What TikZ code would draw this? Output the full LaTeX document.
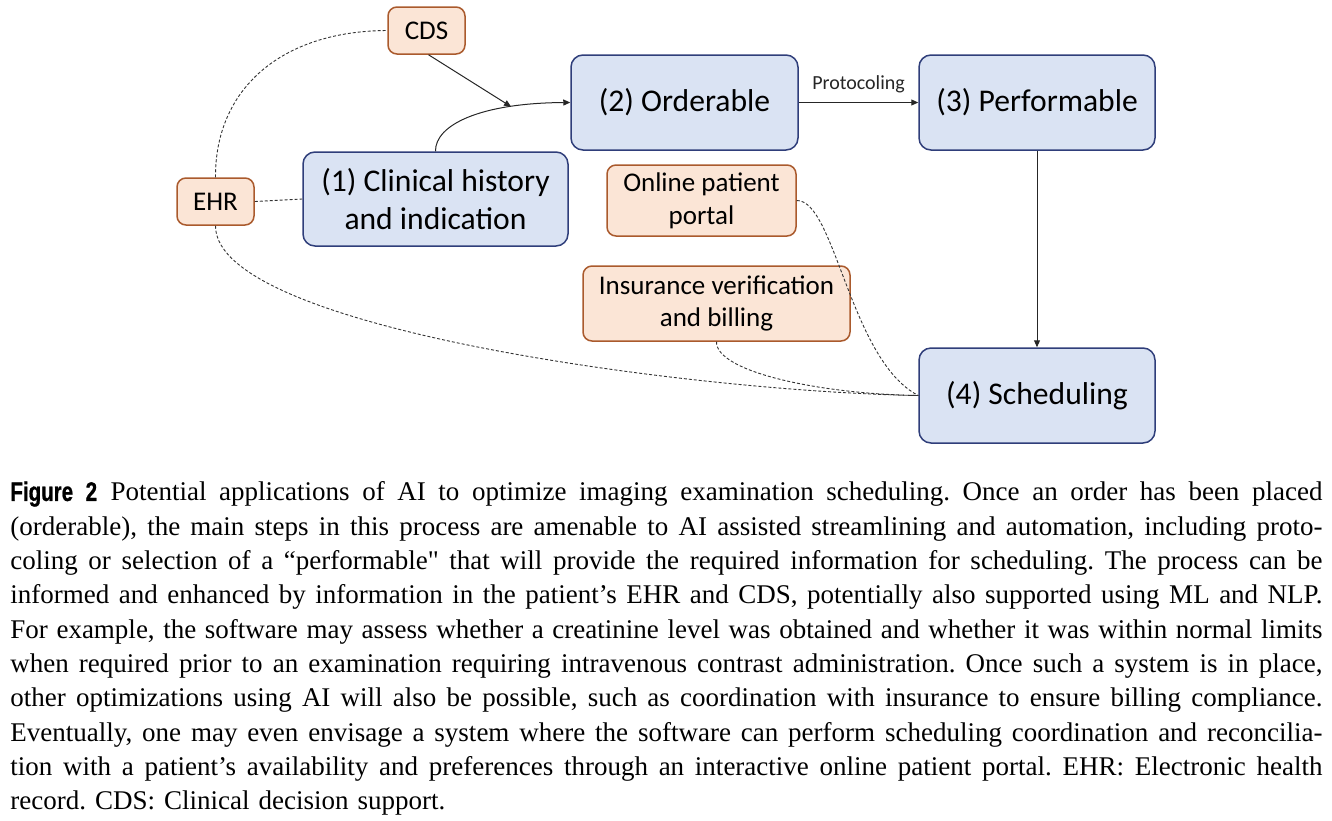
\documentclass[tikz,border=0pt]{standalone}
\usepackage{fontspec}
\setmainfont{Liberation Serif}[Ligatures=TeXOff]
\newfontfamily\carl{Carlito}
\newfontfamily\figfont[FakeStretch=0.76,FakeBold=0.8]{Liberation Sans}
\usetikzlibrary{arrows.meta}
\definecolor{bluefill}{RGB}{218,227,243}
\definecolor{bluebd}{RGB}{47,62,122}
\definecolor{orfill}{RGB}{251,229,214}
\definecolor{orbd}{RGB}{170,90,45}
\tikzset{
  bigbox/.style={draw=bluebd, fill=bluefill, line width=0.75pt, rounded corners=6pt,
    font=\carl\fontsize{15.8}{18.6}\selectfont, align=center, inner sep=0pt},
  smallbox/.style={draw=orbd, fill=orfill, line width=0.75pt, rounded corners=4.5pt,
    font=\carl\fontsize{13.5}{16.4}\selectfont, align=center, inner sep=0pt},
  dsh/.style={dash pattern=on 1.5pt off 1pt, line width=0.45pt, black!80},
  arr/.style={-{Triangle[length=3.5pt,width=3pt]}, line width=0.5pt, black!85}
}
\newcommand{\myCapLine}[1]{\leavevmode\hbox to 656pt{\spaceskip=3.3pt plus 20pt minus 1.2pt\relax #1}}
\begin{document}
\begin{tikzpicture}[x=0.5pt,y=-0.5pt]
\useasboundingbox (0,0) rectangle (1332,820);
% nodes
\node[smallbox, minimum width=38.5pt, minimum height=23.5pt] (cds) at (426.5,30.5) {CDS};
\node[bigbox, minimum width=113.5pt, minimum height=47.5pt] (ord) at (684.5,102.5) {\raisebox{-1pt}{(2) Orderable}};
\node[bigbox, minimum width=118pt, minimum height=47.5pt] (perf) at (1037,102.5) {\raisebox{-1pt}{(3) Performable}};
\node[bigbox, minimum width=132.5pt, minimum height=47pt] (clin) at (435.5,199) {(1) Clinical history\\and indication};
\node[smallbox, minimum width=38.5pt, minimum height=23.5pt] (ehr) at (215.5,201.5) {EHR};
\node[smallbox, minimum width=94.5pt, minimum height=35.5pt] (portal) at (701.5,200.5) {Online patient\\portal};
\node[smallbox, minimum width=133.5pt, minimum height=37.5pt] (ins) at (716.5,303.5) {Insurance verification\\and billing};
\node[bigbox, minimum width=118pt, minimum height=47.5pt] (sched) at (1037,395.5) {\raisebox{-1pt}{(4) Scheduling}};
% solid connectors
\draw[arr] (clin.north) .. controls (435,125) and (480,103) .. coordinate[pos=0.75] (mid) (ord.west);
\draw[arr] ([xshift=1pt]cds.south) -- (mid);
\draw[arr] (ord.east) -- node[above=1pt, font=\carl\fontsize{10}{12}\selectfont] (plab) {Protocoling} (perf.west);
\draw[arr] (perf.south) -- (sched.north);
% dashed connectors
\draw[dsh] (ehr.east) -- (clin.west);
\draw[dsh] (ehr.north) .. controls (215,90) and (280,31) .. (cds.west);
\draw[dsh] (ehr.south) .. controls (215,330) and (700,392) .. (sched.west);
\draw[dsh] (portal.east) .. controls (835,200) and (850,360) .. (sched.west);
\draw[dsh] (ins.south) .. controls (716,372) and (820,394) .. (sched.west);
% caption
\node[anchor=north west, inner sep=0pt, align=left, text width=656pt,
  font=\fontsize{13.5}{17.15}\selectfont\frenchspacing] (cap) at (10,481) {%
\myCapLine{{\figfont\bfseries\fontsize{13.5}{16}\selectfont Figure 2}\enspace Potential applications of AI to optimize imaging examination scheduling. Once an order has been placed}\\
\myCapLine{(orderable), the main steps in this process are amenable to AI assisted streamlining and automation, including proto-}\\
\myCapLine{coling or selection of a “performable" that will provide the required information for scheduling. The process can be}\\
\myCapLine{informed and enhanced by information in the patient’s EHR and CDS, potentially also supported using ML and NLP.}\\
\myCapLine{For example, the software may assess whether a creatinine level was obtained and whether it was within normal limits}\\
\myCapLine{when required prior to an examination requiring intravenous contrast administration. Once such a system is in place,}\\
\myCapLine{other optimizations using AI will also be possible, such as coordination with insurance to ensure billing compliance.}\\
\myCapLine{Eventually, one may even envisage a system where the software can perform scheduling coordination and reconcilia-}\\
\myCapLine{tion with a patient’s availability and preferences through an interactive online patient portal. EHR: Electronic health}\\
record. CDS: Clinical decision support.};
\end{tikzpicture}
\end{document}
